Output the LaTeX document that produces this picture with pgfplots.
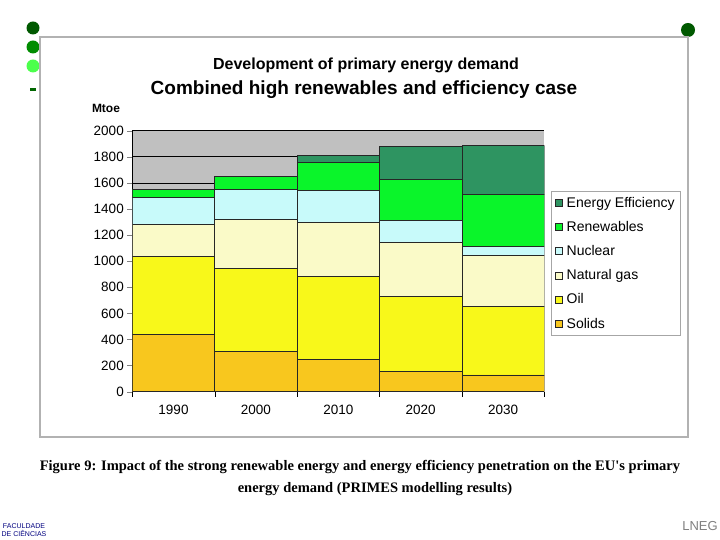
\documentclass[border=0pt]{standalone}
\usepackage{pgfplots}
\pgfplotsset{compat=1.18}
\usepackage{fontspec}
\setmainfont{Liberation Sans}
\newfontfamily\serif{Liberation Serif}
\definecolor{solids}{HTML}{F8C71E}
\definecolor{oil}{HTML}{F8F81A}
\definecolor{gas}{HTML}{FAFAC8}
\definecolor{nuclear}{HTML}{C8FAFA}
\definecolor{renew}{HTML}{0AF52A}
\definecolor{eff}{HTML}{2E9461}
\definecolor{plotbg}{HTML}{C0C0C0}
\pgfplotstableread{
x solids oil gas nuclear renew eff
0 437 597 248 204 64 0
1 306 639 373 235 94 0
2 250 636 412 247 212 56
3 153 580 414 163 317 250
4 128 526 393 69 398 370
}\datatable
\begin{document}
\begin{tikzpicture}[x=1pt,y=1pt]
\useasboundingbox (0,0) rectangle (720,540);
\fill[white] (0,0) rectangle (720,540);
% decorations
\fill[green!35!black] (33,512) circle (6.5);
\fill[green!55!black] (33,493) circle (6.5);
\fill[green!70] (33,474) circle (6.5);
\fill[green!40!black] (30,449) rectangle (36,452);
\fill[green!35!black] (688,510) circle (7);
\draw[gray!60,line width=1.5pt] (40,103) rectangle (688,503);
\node[font=\bfseries\fontsize{16}{18}\selectfont] at (366,475) {Development of primary energy demand};
\node[font=\bfseries\fontsize{19}{22}\selectfont] at (364,450) {Combined high renewables and efficiency case};
\node[font=\bfseries\fontsize{12}{14}\selectfont] at (106,432) {Mtoe};
\begin{axis}[
  at={(132.3pt,148.3pt)}, anchor=south west,
  scale only axis, width=412pt, height=261pt,
  ybar stacked, bar width=1,
  xmin=-0.5, xmax=4.5, ymin=0, ymax=2000,
  xtick={0,1,2,3,4}, xticklabels={1990,2000,2010,2020,2030},
  minor xtick={-0.5,0.5,1.5,2.5,3.5,4.5},
  ytick={0,200,...,2000},
  major x tick style={draw=none},
  minor x tick style={black},
  minor tick length=5pt, major tick length=5pt,
  tick align=outside,
  axis x line*=bottom, axis y line*=left,
  axis line style={black},
  y tick label style={/pgf/number format/1000 sep={}},
  /pgf/number format/assume math mode=true,
  tick label style={font=\fontsize{13.5}{15}\selectfont},
  xticklabel style={yshift=-5pt},
  ymajorgrids, grid style={black, line width=0.6pt},
  axis background/.style={fill=plotbg},
  every axis plot/.append style={draw=black!85, line width=0.8pt},
  reverse legend,
  legend style={at={(1.016,0.769)}, anchor=north west, draw=gray!70, fill=white,
    font=\fontsize{14}{16}\selectfont, row sep=8.5pt, inner sep=4pt,
    nodes={inner xsep=2pt},
    /tikz/every odd column/.append style={column sep=2pt}},
  legend cell align=left,
  legend image code/.code={\draw[#1, line width=0.6pt] (0pt,-3.5pt) rectangle (7pt,3.5pt);},
]
\addplot[fill=solids] table[x=x,y=solids]{\datatable};
\addplot[fill=oil] table[x=x,y=oil]{\datatable};
\addplot[fill=gas] table[x=x,y=gas]{\datatable};
\addplot[fill=nuclear] table[x=x,y=nuclear]{\datatable};
\addplot[fill=renew] table[x=x,y=renew]{\datatable};
\addplot[fill=eff] table[x=x,y=eff]{\datatable};
\legend{Solids,Oil,Natural gas,Nuclear,Renewables,Energy Efficiency}
\end{axis}
\node[font=\serif\bfseries\fontsize{14.5}{17}\selectfont] at (360,73) {Figure 9: Impact of the strong renewable energy and energy efficiency penetration on the EU's primary};
\node[font=\serif\bfseries\fontsize{14.5}{17}\selectfont] at (375,51) {energy demand (PRIMES modelling results)};
\node[font=\fontsize{7}{8}\selectfont, blue!50!black, align=center] at (24,10) {FACULDADE\\DE CIÊNCIAS};
\node[font=\fontsize{13}{14}\selectfont, gray] at (700,14) {LNEG};
\end{tikzpicture}
\end{document}
